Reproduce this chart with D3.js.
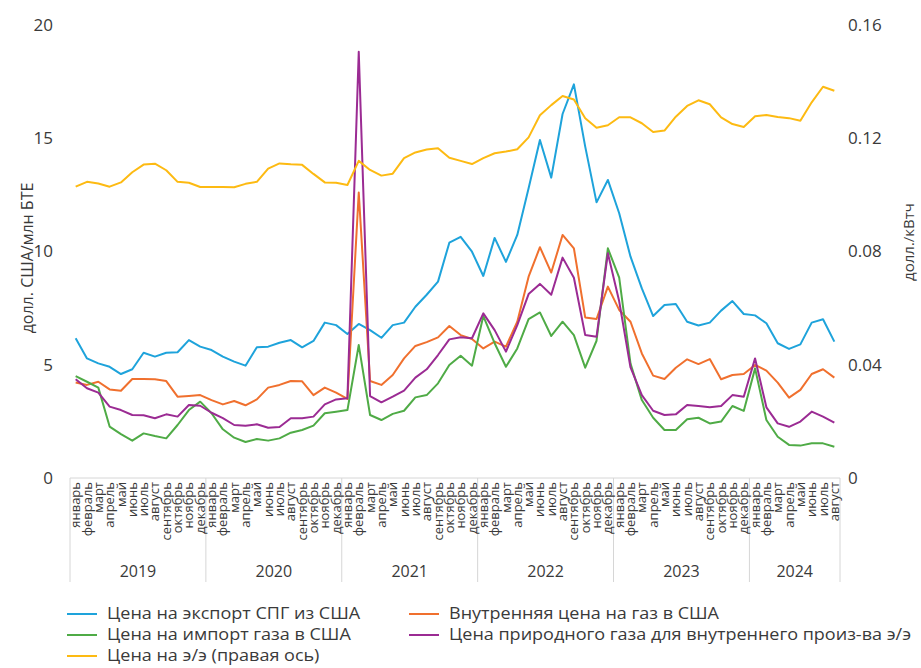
<!DOCTYPE html>
<html><head><meta charset="utf-8">
<script src="https://cdn.jsdelivr.net/npm/d3@7"></script>
<style>
body{margin:0;background:#fff;}
text{font-family:"Open Sans","Noto Sans",sans-serif;fill:#3a3a3a;}
</style></head>
<body><svg id="c" width="921" height="668"></svg>
<script>
const monthNames = ["январь","февраль","март","апрель","май","июнь","июль","август","сентябрь","октябрь","ноябрь","декабрь"];
const years = ["2019","2020","2021","2022","2023","2024"];
const monthsInYear = [12,12,12,12,12,8];
const leftTicks = [0,5,10,15,20];
const rightTicks = [0,0.04,0.08,0.12,0.16];

const lngExport = [6.17,5.28,5.06,4.91,4.59,4.80,5.53,5.36,5.53,5.55,6.09,5.80,
 5.65,5.36,5.14,4.96,5.77,5.80,5.97,6.09,5.77,6.05,6.86,6.75,
 6.36,6.80,6.53,6.19,6.75,6.86,7.56,8.09,8.67,10.39,10.65,9.99,
 8.92,10.60,9.54,10.73,12.79,14.92,13.26,16.07,17.38,14.63,12.17,13.16,
 11.69,9.77,8.37,7.15,7.64,7.68,6.90,6.73,6.86,7.39,7.81,7.24,
 7.18,6.83,5.95,5.70,5.90,6.86,7.01,6.02];
const domesticGas = [4.22,4.11,4.25,3.91,3.85,4.37,4.37,4.36,4.28,3.59,3.62,3.66,
 3.44,3.25,3.40,3.21,3.47,3.99,4.11,4.28,4.27,3.66,3.99,3.77,
 3.49,12.6,4.28,4.11,4.55,5.28,5.83,6.00,6.21,6.71,6.31,6.14,
 5.72,6.02,5.80,6.90,8.89,10.19,9.07,10.73,10.14,7.09,7.02,8.45,
 7.42,6.90,5.50,4.52,4.37,4.87,5.24,5.03,5.25,4.36,4.55,4.59,
 4.99,4.74,4.21,3.55,3.89,4.59,4.80,4.43];
const importGas = [4.50,4.25,3.99,2.27,1.94,1.65,1.97,1.85,1.75,2.34,3.00,3.37,
 2.86,2.15,1.78,1.59,1.72,1.65,1.75,2.00,2.12,2.31,2.86,2.93,
 3.00,5.87,2.78,2.56,2.83,2.97,3.56,3.66,4.18,4.99,5.40,4.96,
 7.15,5.95,4.91,5.72,7.01,7.31,6.27,6.90,6.31,4.87,6.06,10.14,
 8.85,5.05,3.44,2.66,2.12,2.12,2.59,2.66,2.41,2.49,3.18,2.96,
 4.84,2.56,1.82,1.46,1.43,1.53,1.53,1.38];
const powerGas = [4.36,3.96,3.77,3.15,3.00,2.78,2.77,2.64,2.81,2.71,3.22,3.19,
 2.88,2.64,2.34,2.31,2.37,2.22,2.25,2.64,2.64,2.71,3.25,3.47,
 3.52,18.82,3.62,3.34,3.59,3.86,4.43,4.80,5.43,6.12,6.21,6.17,
 7.27,6.53,5.58,6.75,8.12,8.57,8.09,9.73,8.84,6.31,6.24,9.92,
 7.80,4.88,3.66,2.97,2.78,2.81,3.22,3.18,3.12,3.18,3.66,3.59,
 5.28,3.12,2.41,2.26,2.49,2.93,2.71,2.44];
const electricity = [0.1029,0.1046,0.1040,0.1029,0.1044,0.1080,0.1107,0.1110,0.1087,0.1046,0.1043,0.1028,
 0.1028,0.1028,0.1027,0.1039,0.1046,0.1093,0.1111,0.1108,0.1106,0.1074,0.1044,0.1043,
 0.1035,0.1120,0.1088,0.1068,0.1075,0.1130,0.1150,0.1160,0.1165,0.1131,0.1120,0.1109,
 0.1130,0.1147,0.1153,0.1161,0.1203,0.1281,0.1317,0.1349,0.1337,0.1271,0.1237,0.1246,
 0.1274,0.1274,0.1253,0.1222,0.1227,0.1276,0.1314,0.1334,0.1320,0.1274,0.1250,0.1240,
 0.1278,0.1282,0.1275,0.1271,0.1262,0.1327,0.1382,0.1368];

const seriesNames = ["Цена на экспорт СПГ из США","Внутренняя цена на газ в США","Цена на импорт газа в США","Цена природного газа для внутреннего произ-ва э/э","Цена на э/э (правая ось)"];
const seriesColors = ["#1ea3db","#f0702e","#4fab46","#9b2b93","#fdba12"];

// build categories
const cats = [];
years.forEach((y,yi)=>{ for(let m=0;m<monthsInYear[yi];m++) cats.push({year:y, month:monthNames[m], key:y+"-"+m}); });

const svg = d3.select("#c");
const x0 = 70, x1 = 840, yTop = 25, yBot = 478;
const x = d3.scaleBand().domain(cats.map(d=>d.key)).range([x0,x1]);
const yL = d3.scaleLinear().domain([0,20]).range([yBot,yTop]);
const yR = d3.scaleLinear().domain([0,0.16]).range([yBot,yTop]);
const cx = i => x(cats[i].key) + x.bandwidth()/2;

// left axis labels
svg.append("g").selectAll("text").data(leftTicks).join("text")
  .attr("x",53).attr("y",d=>yL(d)).attr("dy","0.35em").attr("text-anchor","end")
  .style("font-size","17px").text(d=>d);
svg.append("g").selectAll("text").data(rightTicks).join("text")
  .attr("x",848).attr("y",d=>yR(d)).attr("dy","0.35em").attr("text-anchor","start")
  .style("font-size","17px").text(d=>d===0?"0":d.toFixed(2));

svg.append("text").attr("transform","translate(27,258) rotate(-90)").attr("text-anchor","middle")
  .attr("dy","0.35em").style("font-size","16px").text("долл. США/млн БТЕ");
svg.append("text").attr("transform","translate(909,242) rotate(-90)").attr("text-anchor","middle")
  .attr("dy","0.35em").style("font-size","15px").text("долл./кВтч");

// category axis frame
const grid = "#d6d6d6";
svg.append("line").attr("x1",x0).attr("x2",x1).attr("y1",yBot).attr("y2",yBot).attr("stroke",grid).attr("stroke-width",1);
const sepIdx = [0]; let acc=0; monthsInYear.forEach(n=>{acc+=n; sepIdx.push(acc);});
svg.append("g").selectAll("line").data(sepIdx).join("line")
  .attr("x1",d=> d<cats.length ? x(cats[d].key) : x1).attr("x2",d=> d<cats.length ? x(cats[d].key) : x1)
  .attr("y1",yBot).attr("y2",582).attr("stroke",grid).attr("stroke-width",1);

// month labels
svg.append("g").selectAll("text").data(cats).join("text")
  .attr("transform",(d,i)=>`translate(${cx(i)},482) rotate(-90)`)
  .attr("text-anchor","end").attr("dy","0.35em").style("font-size","13px").text(d=>d.month);
// year labels
svg.append("g").selectAll("text").data(years).join("text")
  .attr("x",(d,i)=>{const a=x(cats[sepIdx[i]].key); const b= sepIdx[i+1]<cats.length? x(cats[sepIdx[i+1]].key) : x1; return (a+b)/2;})
  .attr("y",571).attr("dy","0.35em").attr("text-anchor","middle").style("font-size","16px").text(d=>d);

// lines
const leftSeries = [lngExport, domesticGas, importGas, powerGas];
const lineL = d3.line().x((d,i)=>cx(i)).y(d=>yL(d));
const lineR = d3.line().x((d,i)=>cx(i)).y(d=>yR(d));
leftSeries.forEach((s,k)=>{
  svg.append("path").datum(s).attr("d",lineL).attr("fill","none").attr("stroke",seriesColors[k]).attr("stroke-width",2).attr("stroke-linejoin","round");
});
svg.append("path").datum(electricity).attr("d",lineR).attr("fill","none").attr("stroke",seriesColors[4]).attr("stroke-width",2).attr("stroke-linejoin","round");

// legend
const legendPos = [[67,614],[409,614],[67,635],[409,635],[67,656]];
const lg = svg.append("g");
const items = [];
seriesNames.forEach((n,k)=>{
  const [lx,ly] = legendPos[k];
  lg.append("line").attr("x1",lx).attr("x2",lx+30).attr("y1",ly).attr("y2",ly).attr("stroke",seriesColors[k]).attr("stroke-width",2);
  const t = lg.append("text").attr("dy","0.35em").style("font-size","15.4px").text(n);
  items.push({t,lx,ly});
});
// fit legend text width to the original (first item ~253px wide)
const w0 = items[0].t.node().getComputedTextLength();
const sx = 253 / w0;
items.forEach(({t,lx,ly})=> t.attr("transform",`translate(${lx+40},${ly}) scale(${sx},1)`));
</script></body></html>
